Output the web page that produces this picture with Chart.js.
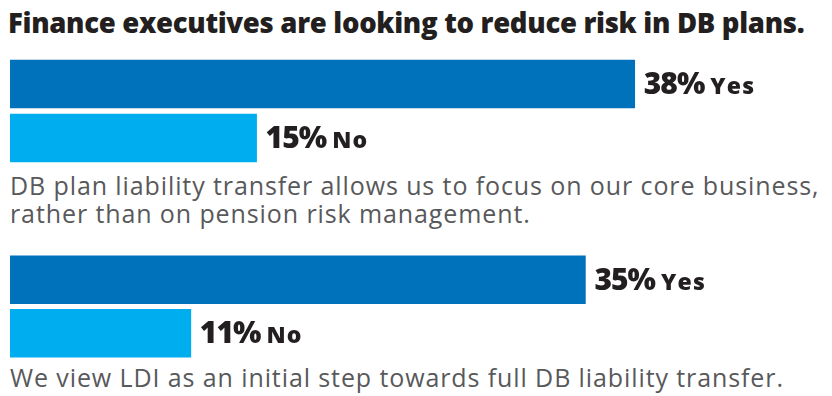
<!DOCTYPE html>
<html>
<head>
<meta charset="utf-8">
<script src="https://cdn.jsdelivr.net/npm/chart.js@4"></script>
<style>
  body { margin: 0; background: #fff; width: 832px; height: 396px; position: relative; overflow: hidden; }
  .title { position: absolute; left: 8px; top: 4px; font-family: "Open Sans", sans-serif; font-weight: 800; font-size: 27.5px; color: #231f20; white-space: nowrap; letter-spacing: -0.3px; }
  .caption { position: absolute; left: 10px; font-family: "Open Sans", sans-serif; font-size: 25px; line-height: 28px; color: #58595b; white-space: nowrap; letter-spacing: 0.9px; }
  .chartbox { position: absolute; left: 0; width: 832px; }
</style>
</head>
<body>
<div class="title" id="title"></div>
<div class="chartbox" style="top:57px;height:108px"><canvas id="chart1"></canvas></div>
<div class="caption" id="cap1" style="top:171px"></div>
<div class="chartbox" style="top:253px;height:107px"><canvas id="chart2"></canvas></div>
<div class="caption" id="cap2" style="top:363px"></div>
<script>
const title = 'Finance executives are looking to reduce risk in DB plans.';
const answers = ['Yes', 'No'];
const captions = [
    'DB plan liability transfer allows us to focus on our core business,<br>rather than on pension risk management.',
    'We view LDI as an initial step towards full DB liability transfer.'
];
const yesValues = [38, 35];
const noValues = [15, 11];

document.getElementById('title').textContent = title;
document.getElementById('cap1').innerHTML = captions[0];
document.getElementById('cap2').innerHTML = captions[1];

// value + answer written just past the end of each bar
const barLabels = {
    id: 'barLabels',
    afterDatasetsDraw(chart) {
        const ctx = chart.ctx;
        const meta = chart.getDatasetMeta(0);
        meta.data.forEach((bar, i) => {
            const value = chart.data.datasets[0].data[i];
            const pct = value + '%';
            ctx.save();
            ctx.fillStyle = '#231f20';
            ctx.textBaseline = 'alphabetic';
            ctx.font = '800 30px "Open Sans"';
            ctx.letterSpacing = '-1px';
            const x = bar.x + 9;
            const y = bar.y + 10;
            ctx.fillText(pct, x, y);
            const w = ctx.measureText(pct).width;
            ctx.font = '800 23px "Open Sans"';
            ctx.letterSpacing = '1.2px';
            ctx.fillText(chart.data.labels[i], x + w + 6, y);
            ctx.restore();
        });
    }
};

function renderGroup(id, i) {
    const ctx = document.getElementById(id).getContext('2d');
    new Chart(ctx, {
        type: 'bar',
        data: {
            labels: answers,
            datasets: [{
                data: [yesValues[i], noValues[i]],
                backgroundColor: ['#0071bb', '#00aeef'],
                borderWidth: 0,
                barThickness: 48
            }]
        },
        options: {
            indexAxis: 'y',
            responsive: true,
            maintainAspectRatio: false,
            animation: false,
            layout: { padding: { left: 10, right: 0, top: 0, bottom: 0 } },
            plugins: { legend: { display: false }, tooltip: { enabled: false } },
            scales: {
                x: { display: false, min: 0, max: 50 },
                y: { display: false }
            }
        },
        plugins: [barLabels]
    });
}

renderGroup('chart1', 0);
renderGroup('chart2', 1);
</script>
</body>
</html>
